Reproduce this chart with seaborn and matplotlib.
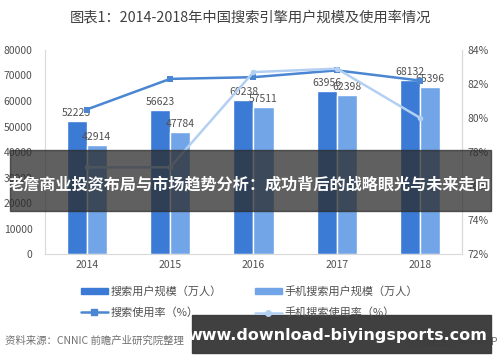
import pandas as pd
import matplotlib.pyplot as plt
import seaborn as sns
from matplotlib.patches import Patch
from matplotlib.lines import Line2D

# data
years = ['2014', '2015', '2016', '2017', '2018']
search_users = [52223, 56623, 60238, 63956, 68132]
mobile_users = [42914, 47784, 57511, 62398, 65396]
search_rate = [80.5, 82.3, 82.4, 82.8, 82.2]
mobile_rate = [77.1, 77.1, 82.7, 82.9, 80.0]
bar_names = ['搜索用户规模（万人）', '手机搜索用户规模（万人）']
line_names = ['搜索使用率（%）', '手机搜索使用率（%）']
title = '图表1：2014-2018年中国搜索引擎用户规模及使用率情况'
source = '资料来源：CNNIC 前瞻产业研究院整理'
source_right = '@前瞻经济学人APP'
banner = '老詹商业投资布局与市场趋势分析：成功背后的战略眼光与未来走向'
url = 'www.download-biyingsports.com'

sns.set_style('white')
plt.rcParams['font.family'] = ['Noto Sans CJK SC', 'DejaVu Sans']

dark_bar = '#3b7bd6'
light_bar = '#72a5e8'
dark_line = '#4a86d2'
light_line = '#b3cff1'
txt = '#505050'

df = pd.DataFrame({
    'year': years * 2,
    'value': search_users + mobile_users,
    'series': [bar_names[0]] * 5 + [bar_names[1]] * 5,
})

fig = plt.figure(figsize=(5, 3.62), dpi=100)
ax = fig.add_axes([0.09, 0.298, 0.834, 0.564])

sns.barplot(data=df, x='year', y='value', hue='series', ax=ax,
            palette=[dark_bar, light_bar], width=0.48, saturation=1,
            legend=False)
ax.set_xlim(-0.5, 4.5)
ax.set_ylim(0, 80000)
ax.set_yticks(range(0, 80001, 10000))
ax.set_xlabel('')
ax.set_ylabel('')
ax.tick_params(axis='both', labelsize=7.5, colors=txt, length=0, pad=4)
ax.tick_params(axis='y', pad=9)
ax.spines['top'].set_visible(False)
for s in ['left', 'bottom', 'right']:
    ax.spines[s].set_color('#d9d9d9')
    ax.spines[s].set_linewidth(0.8)

# value labels
for i in range(5):
    ax.text(i - 0.12, search_users[i] + 1200, str(search_users[i]),
            ha='center', va='bottom', fontsize=7.5, color=txt)
    ax.text(i + 0.12, mobile_users[i] + 1200, str(mobile_users[i]),
            ha='center', va='bottom', fontsize=7.5, color=txt)

ax2 = ax.twinx()
sns.lineplot(x=list(range(5)), y=search_rate, ax=ax2, color=dark_line,
             marker='s', markersize=4, linewidth=1.8, markeredgewidth=0)
sns.lineplot(x=list(range(5)), y=mobile_rate, ax=ax2, color=light_line,
             marker='o', markersize=4, linewidth=1.8, markeredgewidth=0)
ax2.set_ylim(72, 84)
ax2.set_yticks(range(72, 85, 2))
ax2.set_yticklabels([f'{v}%' for v in range(72, 85, 2)])
ax2.tick_params(axis='y', labelsize=7.5, colors=txt, length=0, pad=4)
for s in ['top', 'left', 'bottom']:
    ax2.spines[s].set_visible(False)
ax2.spines['right'].set_color('#d9d9d9')

# legend: column-wise fill, so bars on row 1 and lines on row 2
handles = [Patch(color=dark_bar),
           Line2D([], [], color=dark_line, marker='s', markersize=4, lw=1.8),
           Patch(color=light_bar),
           Line2D([], [], color=light_line, marker='o', markersize=4, lw=1.8)]
labels = [bar_names[0], line_names[0], bar_names[1], line_names[1]]
fig.legend(handles, labels, ncol=2, loc='upper left',
           bbox_to_anchor=(0.162, 0.21), frameon=False, fontsize=8,
           labelcolor=txt, columnspacing=3.0, handlelength=2.4,
           handleheight=0.55, handletextpad=0.25, labelspacing=0.95,
           borderpad=0, borderaxespad=0)

fig.text(0.5, 0.952, title, ha='center', va='center', fontsize=10.3,
         color='#404040')
fig.text(0.01, 0.06, source, ha='left', va='center', fontsize=7.5,
         color='#707070', style='italic')
fig.text(0.995, 0.06, source_right, ha='right', va='center', fontsize=7.5,
         color='#707070')

# overlay banners
fig.patches.append(plt.Rectangle((0.02, 0.417), 0.962, 0.168,
                                 transform=fig.transFigure,
                                 color='#2b2b2b', alpha=0.75, zorder=5))
fig.text(0.5, 0.49, banner, ha='center', va='center', fontsize=11.6,
         color='white', fontweight='bold', zorder=6)
fig.patches.append(plt.Rectangle((0.384, 0.025), 0.598, 0.105,
                                 transform=fig.transFigure,
                                 color='#3a3a3a', alpha=0.97, zorder=5))
fig.text(0.675, 0.072, url, ha='center', va='center', fontsize=11.5,
         color='white', fontweight='bold', zorder=6,
         family=['DejaVu Sans'])

fig.savefig('out.png', dpi=100)
